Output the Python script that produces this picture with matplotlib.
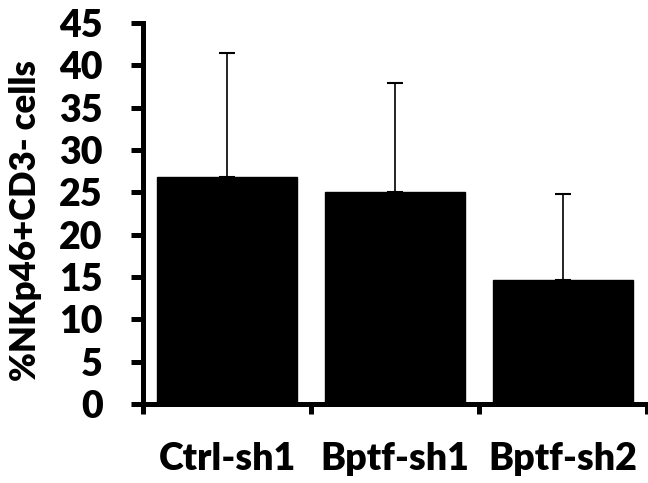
import matplotlib
matplotlib.use("Agg")
import matplotlib.pyplot as plt
import numpy as np

categories = ["Ctrl-sh1", "Bptf-sh1", "Bptf-sh2"]
values = [26.8, 25.0, 14.6]
errors_upper = [14.6, 12.9, 10.2]
y_ticks = [0, 5, 10, 15, 20, 25, 30, 35, 40, 45]
y_label = "%NKp46+CD3- cells"

font = "Lato"
weight = "heavy"

fig = plt.figure(figsize=(6.48, 4.83), dpi=100)
ax = fig.add_axes([143/648, 1-404/483, (647-143)/648, (404-23)/483])

x = np.arange(len(categories)) + 0.5
ax.bar(x, values, width=0.83, color="black", edgecolor="black", zorder=2)
ax.errorbar(x, values, yerr=[[0]*len(values), errors_upper], fmt="none",
            ecolor="black", elinewidth=1.2, capsize=6, capthick=1.5, zorder=1)

ax.set_xlim(0, len(categories))
ax.set_ylim(0, 45)

for s in ["top", "right"]:
    ax.spines[s].set_visible(False)
for s in ["left", "bottom"]:
    ax.spines[s].set_linewidth(3.6)
    ax.spines[s].set_zorder(3)

ax.set_yticks(y_ticks)
ax.set_yticklabels([str(t) for t in y_ticks], fontsize=27, fontweight=weight, family=font)
ax.tick_params(axis="y", which="major", direction="out", length=9, width=3.6, pad=20)

ax.set_xticks(np.arange(len(categories) + 1))
ax.set_xticklabels([])
ax.tick_params(axis="x", which="major", direction="out", length=7, width=3.6)
ax.set_xticks(x, minor=True)
ax.set_xticklabels(categories, minor=True, fontsize=27, fontweight=weight, family=font)
ax.tick_params(axis="x", which="minor", length=0, pad=27)

ax.set_ylabel(y_label, fontsize=25, fontweight=weight, family=font)
ax.yaxis.set_label_coords(-0.2, 0.482)

fig.savefig("out.png", dpi=100)
